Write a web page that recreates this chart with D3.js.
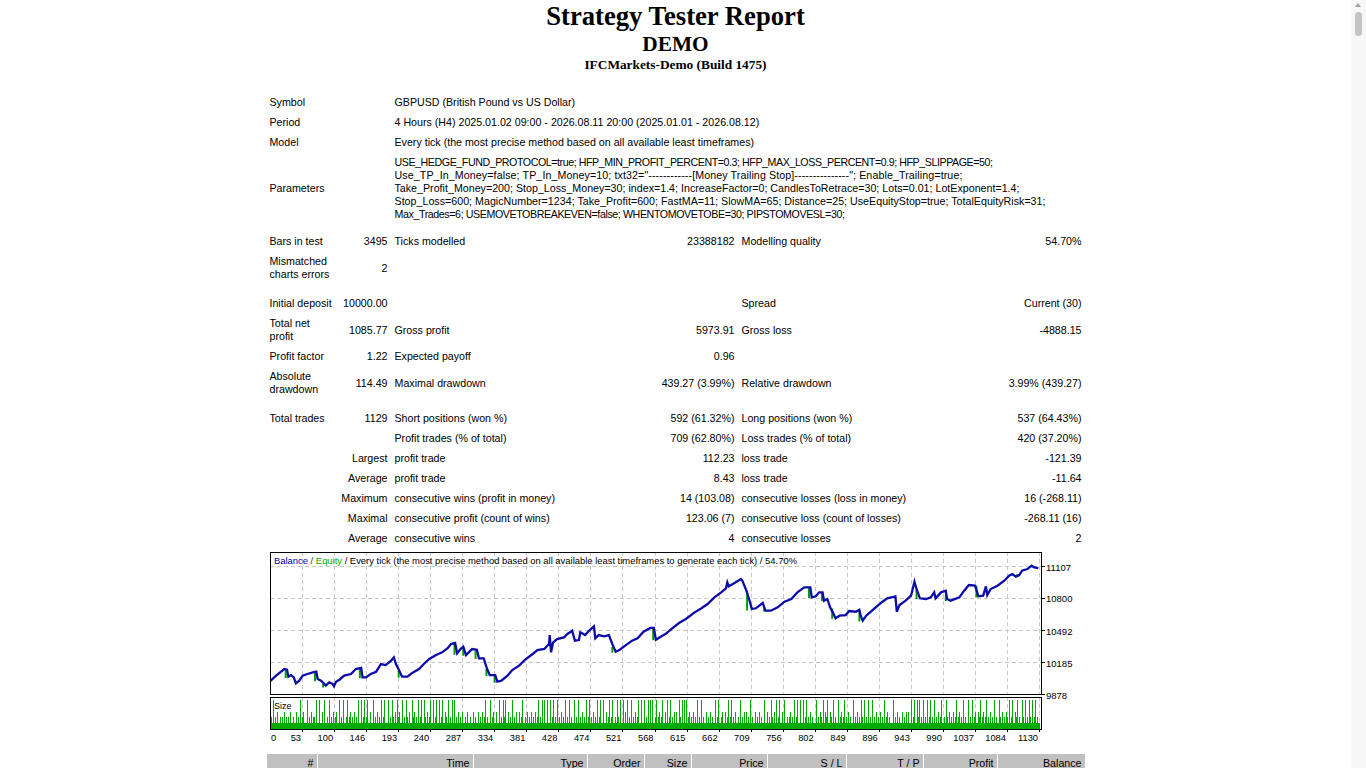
<!DOCTYPE html>
<html>
<head>
<meta charset="utf-8">
<title>Strategy Tester: DEMO</title>
<script src="https://cdn.jsdelivr.net/npm/d3@7"></script>
<style>
html, body { margin: 0; padding: 0; background: #fff; overflow: hidden; }
body { width: 1351px; padding-top: 1px; font-family: "Liberation Serif", "Times New Roman", serif; font-size: 16px; }
td { font: 8pt "Liberation Sans", Tahoma, Arial, sans-serif; line-height: 13px; padding: 3px; white-space: nowrap; }
table { border-collapse: separate; border-spacing: 1px; table-layout: fixed; margin: 0 auto; }
#stats { margin-top: 1px; }
.c2, .c4, .c6 { text-align: right; }
.c2 { direction: rtl; }
#chart { display: block; margin: 1px auto 0; }
#trades { margin-top: 3px; }
#trades td { background: #c0c0c0; text-align: right; }
#scroll { position: fixed; left: 1351px; top: 0; width: 15px; height: 768px; background: #f7f7f7; }
#thumb { position: absolute; left: 4px; top: 12px; width: 7px; height: 24px; border-radius: 4px; background: #c4c4c4; }
#arrow { position: absolute; left: 4px; top: 3px; width: 0; height: 0; border-left: 3.5px solid transparent; border-right: 3.5px solid transparent; border-bottom: 4px solid #a0a0a0; }
</style>
</head>
<body>
<div align="center">
  <div style="font: bold 20pt 'Liberation Serif', 'Times New Roman', serif">Strategy Tester Report</div>
  <div style="font: bold 16pt 'Liberation Serif', 'Times New Roman', serif">DEMO</div>
  <div style="font: bold 10pt 'Liberation Serif', 'Times New Roman', serif">IFCMarkets-Demo (Build 1475)</div><br>
  <table id="stats" width="820"></table>
  <svg id="chart" width="820" height="200"></svg>
  <table id="trades" width="820"></table>
</div>
<div id="scroll"><div id="arrow"></div><div id="thumb"></div></div>
<script>
// ---- report text ----
var paramLines = [
  "USE_HEDGE_FUND_PROTOCOL=true; HFP_MIN_PROFIT_PERCENT=0.3; HFP_MAX_LOSS_PERCENT=0.9; HFP_SLIPPAGE=50;",
  "Use_TP_In_Money=false; TP_In_Money=10; txt32=\"------------[Money Trailing Stop]---------------\"; Enable_Trailing=true;",
  "Take_Profit_Money=200; Stop_Loss_Money=30; index=1.4; IncreaseFactor=0; CandlesToRetrace=30; Lots=0.01; LotExponent=1.4;",
  "Stop_Loss=600; MagicNumber=1234; Take_Profit=600; FastMA=11; SlowMA=65; Distance=25; UseEquityStop=true; TotalEquityRisk=31;",
  "Max_Trades=6; USEMOVETOBREAKEVEN=false; WHENTOMOVETOBE=30; PIPSTOMOVESL=30;"
];
var infoRows = [
  ["Symbol", ["GBPUSD (British Pound vs US Dollar)"]],
  ["Period", ["4 Hours (H4) 2025.01.02 09:00 - 2026.08.11 20:00 (2025.01.01 - 2026.08.12)"]],
  ["Model", ["Every tick (the most precise method based on all available least timeframes)"]],
  ["Parameters", paramLines]
];
// null = spacer row
var statRows = [
  null,
  ["Bars in test", "3495", "Ticks modelled", "23388182", "Modelling quality", "54.70%"],
  ["Mismatched\ncharts errors", "2", "", "", "", ""],
  null,
  ["Initial deposit", "10000.00", "", "", "Spread", "Current (30)"],
  ["Total net\nprofit", "1085.77", "Gross profit", "5973.91", "Gross loss", "-4888.15"],
  ["Profit factor", "1.22", "Expected payoff", "0.96", "", ""],
  ["Absolute\ndrawdown", "114.49", "Maximal drawdown", "439.27 (3.99%)", "Relative drawdown", "3.99% (439.27)"],
  null,
  ["Total trades", "1129", "Short positions (won %)", "592 (61.32%)", "Long positions (won %)", "537 (64.43%)"],
  ["", "", "Profit trades (% of total)", "709 (62.80%)", "Loss trades (% of total)", "420 (37.20%)"],
  ["", "Largest", "profit trade", "112.23", "loss trade", "-121.39"],
  ["", "Average", "profit trade", "8.43", "loss trade", "-11.64"],
  ["", "Maximum", "consecutive wins (profit in money)", "14 (103.08)", "consecutive losses (loss in money)", "16 (-268.11)"],
  ["", "Maximal", "consecutive profit (count of wins)", "123.06 (7)", "consecutive loss (count of losses)", "-268.11 (16)"],
  ["", "Average", "consecutive wins", "4", "consecutive losses", "2"]
];
var tradeCols = ["#", "Time", "Type", "Order", "Size", "Price", "S / L", "T / P", "Profit", "Balance"];

// layout (not data): column widths and the rendered widths of the parameter lines
var statWidths = [73, 50, 208, 137, 161, 184];
var spacerHeights = [6, 8, 8];
var tradeWidths = [50, 155, 113, 56, 46, 75, 78, 76, 73, 87];
var paramLineWidths = [598, 568, 625, 651, 450];

// ---- chart data ----
var tickLabels = ["0", "53", "100", "146", "193", "240", "287", "334", "381", "428", "474", "521", "568",
  "615", "662", "709", "756", "802", "849", "896", "943", "990", "1037", "1084", "1130"];
var yTicks = [11107, 10800, 10492, 10185, 9878];
// [trade #, balance]
var balance = [[0,10000],[1,10006],[9,10054],[14,10080],[21,10118],[25,10111],[27,10044],[31,10060],[35,10038],[38,9981],
  [43,10006],[48,10054],[55,10070],[63,10086],[68,10092],[70,10022],[75,10006],[80,9974],[82,9958],[87,9990],
  [92,9974],[94,9952],[97,9996],[102,10015],[109,10054],[119,10070],[126,10118],[134,10128],[136,10038],[141,10038],
  [148,10070],[156,10092],[163,10166],[170,10156],[178,10198],[182,10230],[185,10166],[190,10102],[194,10044],[202,10044],
  [209,10080],[219,10118],[226,10166],[234,10214],[244,10252],[253,10278],[261,10317],[266,10358],[272,10368],[275,10269],
  [280,10310],[284,10332],[288,10252],[292,10278],[297,10310],[304,10303],[307,10221],[314,10221],[319,10118],[323,10060],
  [331,10060],[334,9996],[340,10006],[349,10054],[356,10108],[366,10150],[376,10214],[386,10262],[393,10300],[403,10310],
  [410,10358],[411,10444],[413,10278],[416,10374],[422,10406],[432,10422],[437,10454],[442,10476],[444,10486],[448,10390],
  [454,10396],[456,10470],[463,10444],[469,10486],[476,10528],[478,10413],[483,10444],[491,10432],[498,10444],[503,10358],
  [508,10284],[514,10303],[522,10342],[532,10390],[540,10413],[549,10476],[559,10512],[564,10512],[567,10399],[574,10428],
  [581,10454],[591,10509],[601,10560],[611,10598],[624,10662],[634,10701],[643,10742],[653,10806],[663,10854],[670,10893],
  [672,10950],[674,10912],[682,10941],[692,10982],[694,10966],[700,10870],[704,10790],[708,10694],[714,10701],[724,10752],
  [728,10678],[736,10678],[746,10710],[756,10764],[766,10790],[775,10854],[785,10902],[794,10902],[796,10806],[802,10816],
  [807,10854],[812,10854],[814,10774],[819,10790],[823,10710],[827,10662],[831,10605],[837,10630],[846,10636],[851,10675],
  [861,10668],[866,10687],[868,10630],[871,10582],[876,10630],[883,10668],[890,10710],[900,10764],[907,10797],[919,10816],
  [921,10668],[925,10732],[934,10774],[942,10822],[947,10956],[950,10886],[955,10797],[964,10790],[971,10806],[976,10854],
  [978,10797],[986,10854],[993,10870],[995,10790],[1000,10774],[1013,10806],[1020,10870],[1027,10924],[1036,10918],[1041,10816],
  [1048,10822],[1052,10912],[1054,10828],[1059,10886],[1069,10918],[1079,10966],[1086,11014],[1091,11030],[1096,11004],[1101,11020],
  [1105,11062],[1113,11078],[1119,11110],[1123,11094],[1129,11086]];
// equity dips before balance drops: [trade #, from, to]
var equityDips = [[26,10111,10030],[69,10092,10000],[81,9974,9940],[135,10128,10030],[192,10102,10035],[274,10368,10255],
  [287,10330,10245],[305,10300,10215],[321,10118,10050],[333,10060,9985],[506,10330,10275],[566,10512,10395],
  [704,10870,10680],[729,10700,10670],[795,10902,10800],[814,10854,10770],[829,10700,10600],[869,10680,10575],
  [953,10880,10790],[996,10870,10770],[1041,10918,10805],[1101,11030,11010]];
// lot sizes: every trade opens at 0.01, these trades were larger
var lots05 = [4,44,54,68,72,80,86,102,108,113,129,133,138,143,151,163,168,173,179,186,194,200,208,217,222,226,235,239,
  244,248,253,261,267,271,316,323,336,342,346,356,371,394,399,403,407,411,416,421,434,440,447,452,464,469,480,485,489,
  498,503,510,514,518,525,530,541,545,549,555,559,562,567,576,584,588,601,605,608,611,628,633,654,659,673,678,690,706,
  726,736,744,748,756,770,775,779,783,788,802,812,819,827,834,844,856,868,873,879,885,902,915,942,947,950,954,959,965,
  970,976,986,993,1008,1018,1026,1032,1044,1052,1064,1071,1086,1091,1098,1105,1110,1115,1120,1124];
var lots03 = [10,20,30,38,49,60,76,92,97,118,124,147,157,183,190,204,212,231,257,276,282,290,298,305,311,328,332,350,
  362,366,377,383,389,428,459,475,493,521,536,572,580,593,597,616,621,640,646,664,668,684,696,700,712,718,730,740,752,
  764,794,808,815,823,839,849,862,890,896,907,921,928,934,938,981,998,1003,1013,1036,1040,1048,1058,1076,1081,1094];
var lots02 = [2,7,14,17,24,27,34,41,47,57,63,65,84,89,95,105,111,116,121,127,136,141,155,160,166,176,181,188,197,202,
  210,215,220,228,233,242,251,259,264,274,279,286,294,301,308,314,319,326,339,344,353,359,369,374,380,386,392,397,414,
  419,425,431,437,443,450,456,462,467,472,478,483,496,501,507,512,528,533,539,552,565,570,574,586,591,603,614,619,625,
  631,637,643,650,657,662,671,676,681,687,693,703,709,715,722,733,738,746,759,762,767,773,786,791,797,805,810,817,825,
  830,837,842,847,853,859,865,870,876,882,887,893,899,905,910,918,925,931,945,952,957,962,968,973,979,984,990,995,1001,
  1006,1011,1016,1021,1029,1034,1042,1046,1050,1055,1061,1067,1073,1079,1083,1089,1096,1101,1107,1112,1117,1122,1127];
var totalTrades = 1129;
var chartTitle = [["Balance", "#0000c0"], [" / ", "#303030"], ["Equity", "#00b000"],
  [" / Every tick (the most precise method based on all available least timeframes to generate each tick) / 54.70%", "#000"]];

// ---- stats table ----
var stats = d3.select("#stats");
var cg = stats.append("colgroup");
statWidths.forEach(function(w) { cg.append("col").style("width", w + "px"); });

function addLines(td, text, cls) {
  text.split("\n").forEach(function(s, i) {
    if (i) td.append("br");
    td.append("span").attr("class", cls || null).text(s);
  });
}
infoRows.forEach(function(r) {
  var tr = stats.append("tr");
  tr.append("td").attr("colspan", 2).text(r[0]);
  var td = tr.append("td").attr("colspan", 4);
  addLines(td, r[1].join("\n"), r[0] === "Parameters" ? "pline" : null);
});
var spacerNo = 0;
statRows.forEach(function(r) {
  var tr = stats.append("tr");
  if (!r) {
    tr.style("height", spacerHeights[spacerNo++] + "px").append("td").attr("colspan", 6).style("padding", "0");
    return;
  }
  r.forEach(function(c, i) {
    addLines(tr.append("td").attr("class", "c" + (i + 1)), c);
  });
});
// Tahoma is narrower than its stand-in for capitals: fit each parameter line to its width
d3.selectAll(".pline").each(function(d, i) {
  var w = this.getBoundingClientRect().width;
  var n = this.textContent.length;
  d3.select(this).style("letter-spacing", ((paramLineWidths[i] - w) / n) + "px");
});

// ---- trades header ----
var trades = d3.select("#trades");
var cg2 = trades.append("colgroup");
tradeWidths.forEach(function(w) { cg2.append("col").style("width", w + "px"); });
trades.append("tr").selectAll("td").data(tradeCols).join("td").text(function(d) { return d; });

// ---- chart ----
var svg = d3.select("#chart");
var font = "'Liberation Sans', Tahoma, Arial, sans-serif";
var L = 4, R = 775, T = 2, B = 144, ST = 147, SB = 179;

var xTrade = d3.scaleLinear().domain([0, 1130]).range([4, 773]);
var xTick = d3.scalePoint().domain(tickLabels).range([4, 773]);
var y = d3.scaleLinear().domain([9878, 11107]).range([B, 16]);
var ySize = d3.scaleLinear().domain([0, 0.05]).range([SB, 150]);

svg.append("defs").append("clipPath").attr("id", "plotclip")
  .append("rect").attr("x", L).attr("y", T).attr("width", R - L).attr("height", B - T);

// grid
var grid = svg.append("g").attr("stroke", "#c8c8c8").attr("stroke-dasharray", "4,3").attr("shape-rendering", "crispEdges");
grid.selectAll(".vg").data(tickLabels.slice(1)).join("line")
  .attr("x1", function(d) { return Math.round(xTick(d)) + 0.5; })
  .attr("x2", function(d) { return Math.round(xTick(d)) + 0.5; })
  .attr("y1", T).attr("y2", B);
grid.selectAll(".vs").data(tickLabels.slice(1)).join("line")
  .attr("x1", function(d) { return Math.round(xTick(d)) + 0.5; })
  .attr("x2", function(d) { return Math.round(xTick(d)) + 0.5; })
  .attr("y1", ST).attr("y2", SB);
grid.selectAll(".hg").data(yTicks.slice(0, -1)).join("line")
  .attr("x1", L).attr("x2", R)
  .attr("y1", function(d) { return Math.round(y(d)) + 0.5; })
  .attr("y2", function(d) { return Math.round(y(d)) + 0.5; });

// size bars
var sizeData = [];
lots02.forEach(function(t) { sizeData.push([t, 0.02]); });
lots03.forEach(function(t) { sizeData.push([t, 0.03]); });
lots05.forEach(function(t) { sizeData.push([t, 0.05]); });
var sizeG = svg.append("g").attr("fill", "#00aa00").attr("shape-rendering", "crispEdges");
sizeG.append("rect").attr("x", xTrade(0)).attr("width", xTrade(totalTrades) - xTrade(0) + 2)
  .attr("y", ySize(0.01)).attr("height", SB - ySize(0.01));
sizeG.selectAll(".bar").data(sizeData).join("rect")
  .attr("x", function(d) { return Math.round(xTrade(d[0])); })
  .attr("width", 1)
  .attr("y", function(d) { return ySize(d[1]); })
  .attr("height", function(d) { return SB - ySize(d[1]); });

// equity + balance
var plot = svg.append("g").attr("clip-path", "url(#plotclip)");
plot.selectAll(".eq").data(equityDips).join("line")
  .attr("x1", function(d) { return xTrade(d[0]) - 2; })
  .attr("x2", function(d) { return xTrade(d[0]) - 2; })
  .attr("y1", function(d) { return y(d[1]); })
  .attr("y2", function(d) { return y(d[2]); })
  .attr("stroke", "#00a000").attr("stroke-width", 2);
plot.append("path").datum(balance)
  .attr("fill", "none").attr("stroke", "#0c0cac").attr("stroke-width", 2.3)
  .attr("stroke-linejoin", "miter")
  .attr("d", d3.line().x(function(d) { return xTrade(d[0]); }).y(function(d) { return y(d[1]); }));

// frames
svg.append("rect").attr("x", L + 0.5).attr("y", T + 0.5).attr("width", R - L).attr("height", B - T)
  .attr("fill", "none").attr("stroke", "#000").attr("shape-rendering", "crispEdges");
svg.append("rect").attr("x", L + 0.5).attr("y", ST + 0.5).attr("width", R - L).attr("height", SB - ST)
  .attr("fill", "none").attr("stroke", "#000").attr("shape-rendering", "crispEdges");

// right axis
var yAxis = svg.append("g").attr("font-family", font).attr("font-size", "9.5px");
yAxis.selectAll("line").data(yTicks).join("line")
  .attr("x1", R + 1).attr("x2", R + 4)
  .attr("y1", function(d) { return Math.round(y(d)) + 0.5; })
  .attr("y2", function(d) { return Math.round(y(d)) + 0.5; })
  .attr("stroke", "#000").attr("shape-rendering", "crispEdges");
yAxis.selectAll("text").data(yTicks).join("text")
  .attr("x", R + 5).attr("y", function(d) { return y(d) + 4.5; })
  .attr("fill", "#000").text(function(d) { return d; });

// bottom axis
var xAxis = svg.append("g").attr("font-family", font).attr("font-size", "9.3px");
xAxis.selectAll("line").data(tickLabels.slice(1)).join("line")
  .attr("x1", function(d) { return Math.round(xTick(d)) + 0.5; })
  .attr("x2", function(d) { return Math.round(xTick(d)) + 0.5; })
  .attr("y1", SB + 1).attr("y2", SB + 3)
  .attr("stroke", "#000").attr("shape-rendering", "crispEdges");
xAxis.selectAll("text").data(tickLabels).join("text")
  .attr("x", function(d, i) { return i === 0 ? xTick(d) + 1 : xTick(d) - 1; })
  .attr("y", SB + 12)
  .attr("text-anchor", function(d, i) { return i === 0 ? "start" : "end"; })
  .attr("fill", "#000").text(function(d) { return d; });

// titles
var title = svg.append("text").attr("x", L + 4).attr("y", T + 12)
  .attr("font-family", font).attr("font-size", "9px")
  .attr("textLength", 523).attr("lengthAdjust", "spacingAndGlyphs");
title.selectAll("tspan").data(chartTitle).join("tspan")
  .attr("fill", function(d) { return d[1]; }).text(function(d) { return d[0]; });
svg.append("text").attr("x", L + 4).attr("y", ST + 12)
  .attr("font-family", font).attr("font-size", "9px").attr("fill", "#000").text("Size");
</script>
</body>
</html>
